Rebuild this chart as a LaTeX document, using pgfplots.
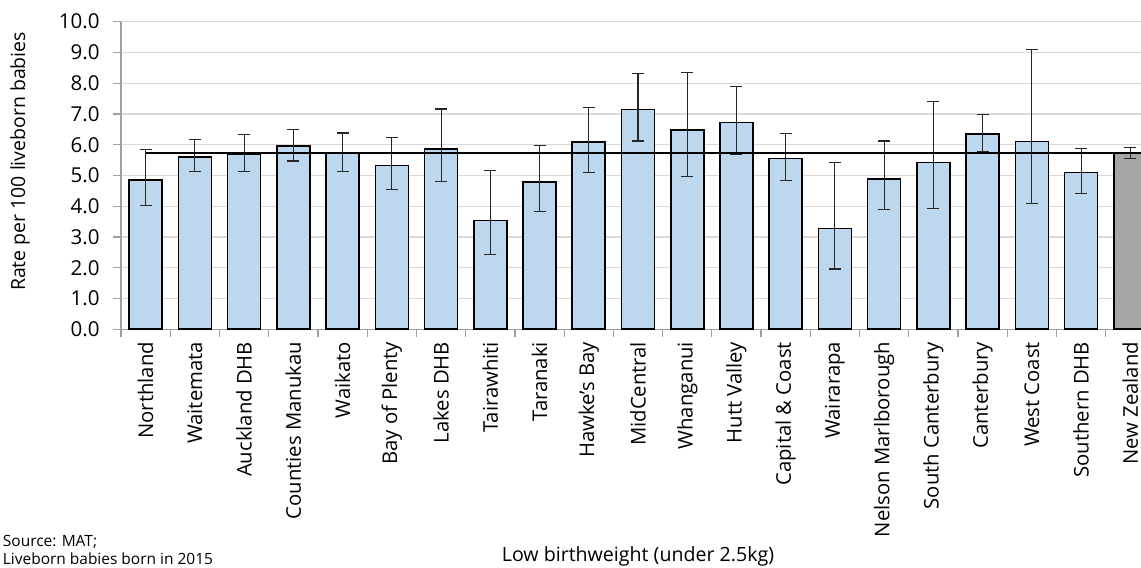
\documentclass[border=0pt]{standalone}
\usepackage{pgfplots}
\pgfplotsset{compat=1.18}
\usepackage{pgfplotstable}
\usepackage{fontspec}
\setmainfont{Open Sans}
\definecolor{barblue}{HTML}{BDD7EE}
\definecolor{nzgray}{HTML}{A6A6A6}
\definecolor{gridgray}{HTML}{D9D9D9}
\definecolor{axgray}{HTML}{A0A0A0}
\definecolor{errgray}{HTML}{262626}

\pgfplotstableread{
x y ep em
0 4.85 1.00 0.84
1 5.61 0.55 0.49
2 5.69 0.63 0.56
3 5.96 0.52 0.49
4 5.71 0.67 0.57
5 5.33 0.90 0.79
6 5.86 1.30 1.07
7 3.54 1.61 1.10
8 4.78 1.19 0.96
9 6.09 1.11 0.98
10 7.14 1.17 1.02
11 6.47 1.89 1.50
12 6.72 1.18 1.03
13 5.55 0.81 0.70
14 3.27 2.15 1.31
15 4.89 1.23 1.01
16 5.42 1.98 1.49
17 6.35 0.64 0.58
18 6.11 2.98 2.03
19 5.09 0.79 0.68
}\dhbdata

\pgfplotstableread{
x y ep em
20 5.72 0.20 0.17
}\nzdata

\begin{document}
\begin{tikzpicture}
\useasboundingbox (0,0) rectangle (855.75pt,425.25pt);
\begin{axis}[
  at={(90.75pt,178.3pt)}, anchor=south west,
  scale only axis,
  width=765pt, height=230.7pt,
  xmin=-0.5, xmax=20.216,
  ymin=0, ymax=10,
  axis x line=bottom, axis y line=left,
  axis line style={-, draw=axgray, line width=0.9pt},
  tick align=outside,
  major tick length=6pt,
  minor tick length=5.5pt,
  tick style={draw=axgray, line width=0.9pt},
  xtick={0,...,20},
  major x tick style={draw=none},
  minor xtick={-0.5,0.5,...,20.5},
  xticklabels={Northland,Waitemata,Auckland DHB,Counties Manukau,Waikato,Bay of Plenty,Lakes DHB,Tairawhiti,Taranaki,Hawke's Bay,MidCentral,Whanganui,Hutt Valley,Capital \& Coast,Wairarapa,Nelson Marlborough,South Canterbury,Canterbury,West Coast,Southern DHB,New Zealand},
  xticklabel style={rotate=90, anchor=east, font=\fontsize{15.2pt}{17pt}\selectfont},
  ytick={0,1,...,10},
  yticklabel style={font=\fontsize{15.4pt}{17pt}\selectfont, xshift=-6.5pt},
  /pgf/number format/.cd, fixed, fixed zerofill, precision=1, assume math mode=true,
  /pgfplots/.cd,
  ymajorgrids,
  grid style={draw=gridgray, line width=1pt},
  ylabel={Rate per 100 liveborn babies},
  every axis y label/.style={at={(axis description cs:-0.099,0.5455)}, rotate=90, anchor=center, font=\fontsize{14.6pt}{17pt}\selectfont},
  error bars/error bar style={line width=0.8pt, draw=errgray},
  error bars/error mark options={rotate=90, mark size=4.5pt, line width=0.8pt, draw=errgray},
]
\addplot[ybar, bar width=24.75pt, bar shift=0pt, fill=barblue, draw=black, line width=1.2pt,
  error bars/.cd, y dir=both, y explicit]
  table[x=x, y=y, y error plus=ep, y error minus=em] {\dhbdata};
\addplot[ybar, bar width=24.75pt, bar shift=0pt, fill=nzgray, draw=black, line width=1.2pt,
  error bars/.cd, y dir=both, y explicit]
  table[x=x, y=y, y error plus=ep, y error minus=em] {\nzdata};
\addplot[black, line width=1.6pt, mark=none] coordinates {(0,5.72) (20.5,5.72)};
\end{axis}
\node[anchor=base, font=\fontsize{14.7pt}{16pt}\selectfont, inner sep=0pt] at (478.5pt,3.9pt) {Low birthweight (under 2.5kg)};
\node[anchor=base west, font=\fontsize{11.6pt}{14pt}\selectfont, inner sep=0pt] at (2pt,15.5pt) {Source: MAT;};
\node[anchor=base west, font=\fontsize{11.6pt}{14pt}\selectfont, inner sep=0pt] at (2pt,2.2pt) {Liveborn babies born in 2015};
\end{tikzpicture}
\end{document}
